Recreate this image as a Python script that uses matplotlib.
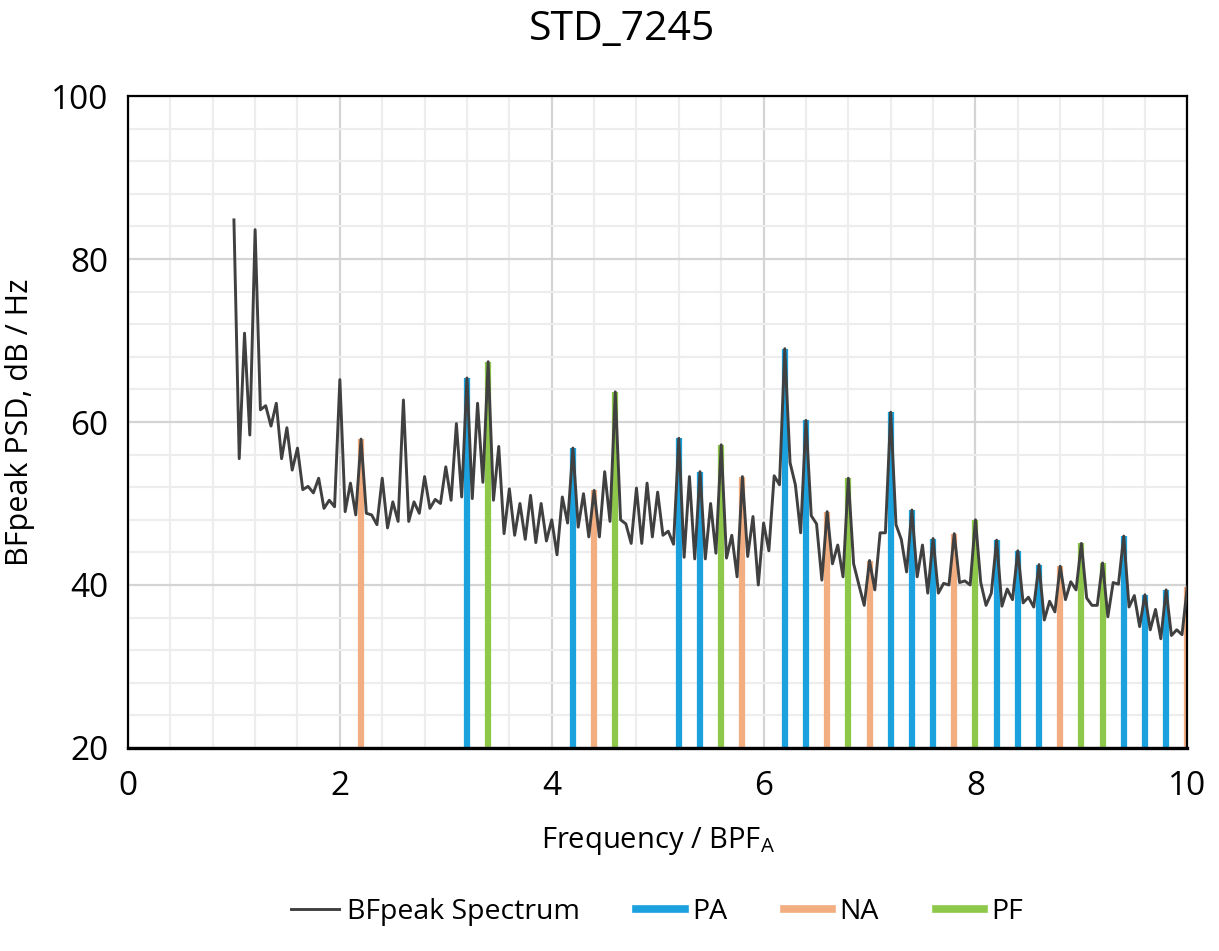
import numpy as np
import matplotlib.pyplot as plt
from matplotlib.lines import Line2D
from matplotlib.ticker import MultipleLocator

plt.rcParams['font.family'] = ['Open Sans', 'DejaVu Sans']

# spectrum, sampled every 0.05 BPF from 1.0 to 10.0
freq = np.round(np.arange(1.0, 10.001, 0.05), 2)
psd = [
    84.8, 55.5, 70.9, 58.4, 83.6, 61.5, 62.0, 59.5, 62.3, 55.5,
    59.3, 54.1, 56.8, 51.7, 52.1, 51.3, 53.1, 49.4, 50.4, 49.6,
    65.2, 49.0, 52.5, 48.6, 57.9, 48.8, 48.6, 47.4, 53.1, 47.0,
    50.2, 47.8, 62.7, 47.8, 50.2, 48.8, 53.3, 49.4, 50.5, 50.0,
    54.5, 50.4, 59.8, 50.8, 65.4, 50.6, 62.3, 52.6, 67.4, 50.4,
    57.0, 46.3, 51.8, 46.1, 50.0, 45.6, 51.0, 45.2, 50.0, 45.4,
    48.0, 43.7, 50.8, 47.6, 56.8, 47.1, 51.2, 45.9, 51.6, 45.9,
    53.9, 47.8, 63.7, 48.0, 47.5, 45.1, 51.9, 45.1, 52.5, 45.9,
    51.4, 46.1, 46.6, 45.0, 58.0, 43.4, 53.3, 43.2, 53.9, 43.2,
    50.0, 43.9, 57.2, 43.3, 46.1, 41.0, 53.3, 43.5, 48.4, 40.0,
    47.6, 44.2, 53.4, 52.3, 69.0, 55.0, 52.3, 46.4, 60.2, 48.5,
    47.5, 40.6, 49.0, 42.6, 44.9, 41.0, 53.1, 42.6, 40.0, 37.5,
    43.0, 39.4, 46.4, 46.4, 61.2, 47.4, 45.6, 41.6, 49.2, 41.0,
    44.9, 39.0, 45.7, 39.0, 40.2, 40.0, 46.3, 40.3, 40.5, 40.0,
    48.0, 40.3, 37.5, 39.0, 45.5, 37.4, 39.5, 38.2, 44.2, 37.8,
    38.5, 37.3, 42.5, 35.7, 38.0, 36.7, 42.3, 38.2, 40.4, 39.4,
    45.1, 38.4, 37.5, 37.5, 42.7, 36.1, 40.3, 40.1, 46.0, 37.3,
    38.7, 34.9, 38.8, 34.5, 37.0, 33.4, 39.4, 33.8, 34.5, 33.9,
    39.8,
]

pa_freq = [3.2, 4.2, 5.2, 5.4, 6.2, 6.4, 7.2, 7.4, 7.6, 8.2, 8.4, 8.6, 9.4, 9.6, 9.8]
na_freq = [2.2, 4.4, 5.8, 6.6, 7.0, 7.8, 8.8, 10.0]
pf_freq = [3.4, 4.6, 5.6, 6.8, 8.0, 9.0, 9.2]

c_line = '#404040'
c_pa = '#1BA1DD'
c_na = '#F2AE80'
c_pf = '#8DC84A'

fig = plt.figure(figsize=(12.19, 9.51), dpi=100)
ax = fig.add_axes([0.105, 0.2135, 0.869, 0.6855])

for f, col in [(pa_freq, c_pa), (na_freq, c_na), (pf_freq, c_pf)]:
    ax.vlines(f, 20, np.interp(f, freq, psd), color=col, lw=4.5, zorder=2)
ax.plot(freq, psd, color=c_line, lw=2.1, zorder=3)

ax.set_xlim(0, 10)
ax.set_ylim(20, 100)
ax.xaxis.set_major_locator(MultipleLocator(2))
ax.xaxis.set_minor_locator(MultipleLocator(0.4))
ax.yaxis.set_major_locator(MultipleLocator(20))
ax.yaxis.set_minor_locator(MultipleLocator(4))
ax.grid(which='major', color='#D4D4D4', lw=1.6, zorder=0)
ax.grid(which='minor', color='#EDEDED', lw=1.6, zorder=0)
ax.set_axisbelow(True)
ax.tick_params(which='both', length=0, labelsize=24)
ax.tick_params(axis='x', pad=16)
ax.tick_params(axis='y', pad=14)
for s in ax.spines.values():
    s.set_color('black')
    s.set_linewidth(1.6)
ax.spines['bottom'].set_linewidth(2.4)

ax.set_xlabel('Frequency / BPF$_\\mathregular{A}$', fontsize=21, labelpad=16)
ax.set_ylabel('BFpeak PSD, dB / Hz', fontsize=22, labelpad=12)
fig.suptitle('STD_7245', fontsize=29.5, x=0.51, y=0.99)

handles = [Line2D([], [], color=c_line, lw=2.1),
           Line2D([], [], color=c_pa, lw=5.5),
           Line2D([], [], color=c_na, lw=5.5),
           Line2D([], [], color=c_pf, lw=5.5)]
fig.legend(handles, ['BFpeak Spectrum', 'PA', 'NA', 'PF'], loc='center',
           bbox_to_anchor=(0.539, 0.041), ncol=4, frameon=False, fontsize=20.5,
           handlelength=1.7, columnspacing=2.0, handletextpad=0.25)

plt.savefig('out.png', dpi=100)
